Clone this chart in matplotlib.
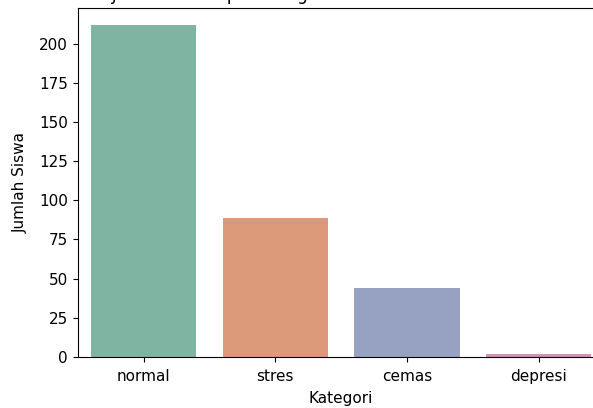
import matplotlib
matplotlib.use("Agg")
import matplotlib.pyplot as plt
import seaborn as sns
import pandas as pd

categories = ["normal", "stres", "cemas", "depresi"]
counts = [212, 89, 44, 2]
title = "Distribusi Jumlah Siswa per Kategori"
bar_colors = ["#80b4a2", "#dc9a7a", "#97a2c2", "#c896b9"]

df = pd.DataFrame({"Kategori": categories, "Jumlah Siswa": counts})

fig = plt.figure(figsize=(5.93, 4.08), dpi=100)
ax = fig.add_axes([0.1312, 0.125, 0.888, 0.855])
sns.barplot(data=df, x="Kategori", y="Jumlah Siswa", hue="Kategori",
            palette=bar_colors, saturation=1, legend=False, ax=ax)
ax.set_title(title, fontsize=12, loc="left", x=-0.095)
ax.set_xlabel("Kategori", fontsize=11, labelpad=5)
ax.set_ylabel("Jumlah Siswa", fontsize=11, labelpad=8)
ax.tick_params(labelsize=11)
ax.tick_params(axis="x", pad=5)
fig.savefig("out.png", dpi=100)
